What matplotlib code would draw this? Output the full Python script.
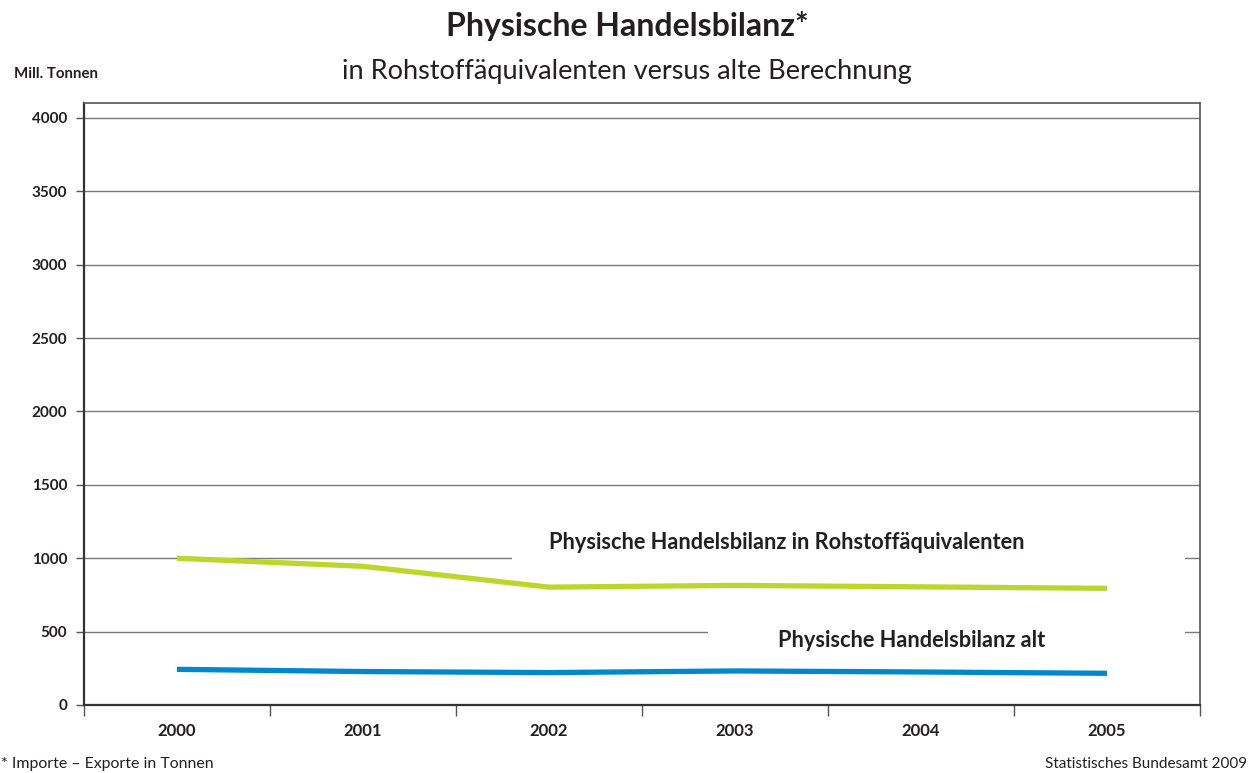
import matplotlib
matplotlib.use("Agg")
import matplotlib.pyplot as plt
from matplotlib.patches import Rectangle
import numpy as np

plt.rcParams['font.family'] = ['Lato', 'DejaVu Sans']

years = ["2000", "2001", "2002", "2003", "2004", "2005"]
rohstoff = [1000, 945, 803, 815, 805, 795]
alt = [243, 228, 221, 232, 225, 216]
yticks = [0, 500, 1000, 1500, 2000, 2500, 3000, 3500, 4000]

title = "Physische Handelsbilanz*"
subtitle = "in Rohstoffäquivalenten versus alte Berechnung"
ylabel = "Mill. Tonnen"
label_green = "Physische Handelsbilanz in Rohstoffäquivalenten"
label_blue = "Physische Handelsbilanz alt"
footnote = "* Importe \u2013 Exporte in Tonnen"
source = "Statistisches Bundesamt 2009"

green = "#BDD62E"
blue = "#0087CC"
text_col = "#231F20"

fig = plt.figure(figsize=(12.54, 7.73), dpi=100)
ax = fig.add_axes([84/1254, 1-705/773, (1200-84)/1254, (705-103)/773])

x = np.arange(len(years))
ax.set_xlim(-0.5, len(years) - 0.5)
ax.set_ylim(0, 4102)

for v in yticks[1:]:
    ax.axhline(v, color="#7a7a7a", lw=1.0, zorder=1)

# white boxes behind labels interrupting gridlines
ax.add_patch(Rectangle((1.80, 1000 - 40), 5.42 - 1.80, 80, facecolor="white",
                       edgecolor="none", zorder=2))
ax.add_patch(Rectangle((2.855, 500 - 40), 5.42 - 2.855, 80, facecolor="white",
                       edgecolor="none", zorder=2))

ax.plot(x, rohstoff, color=green, lw=3.8, zorder=3, solid_capstyle="butt")
ax.plot(x, alt, color=blue, lw=3.8, zorder=3, solid_capstyle="butt")

ax.text(2.0, 1105, label_green, fontsize=15.7, fontweight="bold", color=text_col,
        ha="left", va="center", zorder=4)
ax.text(3.23, 438, label_blue, fontsize=15.7, fontweight="bold", color=text_col,
        ha="left", va="center", zorder=4)

ax.set_yticks(yticks)
ax.set_yticklabels([str(v) for v in yticks], fontsize=11, fontweight="bold", color=text_col)
ax.tick_params(axis="y", length=6, width=1, color="#555555", pad=6)

ax.set_xticks(np.arange(-0.5, len(years), 1.0))
ax.set_xticklabels([])
ax.tick_params(axis="x", which="major", length=8, width=1, color="#555555")
ax.set_xticks(x, minor=True)
ax.set_xticklabels(years, minor=True, fontsize=12, fontweight="bold", color=text_col)
ax.tick_params(axis="x", which="minor", length=0, pad=13)

for side in ["left", "bottom"]:
    ax.spines[side].set_color("#333333")
    ax.spines[side].set_linewidth(1.6)
for side in ["top", "right"]:
    ax.spines[side].set_color("#555555")
    ax.spines[side].set_linewidth(1.2)

fig.text(0.5, 1-26/773, title, fontsize=23, fontweight="bold", color=text_col,
         ha="center", va="center")
fig.text(0.5, 1-71/773, subtitle, fontsize=19.5, color=text_col,
         ha="center", va="center")
fig.text(14/1254, 1-74/773, ylabel, fontsize=10.8, fontweight="bold", color=text_col,
         ha="left", va="center")
fig.text(1/1254, 1-764/773, footnote, fontsize=11.4, color=text_col,
         ha="left", va="center")
fig.text(1247/1254, 1-764/773, source, fontsize=11, color=text_col,
         ha="right", va="center")

fig.savefig("out.png", dpi=100)
